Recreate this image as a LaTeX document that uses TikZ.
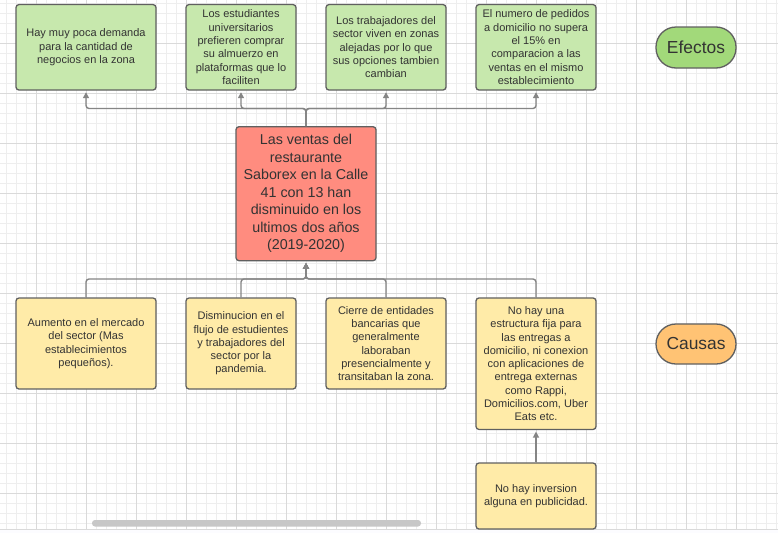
\documentclass[tikz,border=0pt]{standalone}
\usepackage{fontspec}
\setmainfont{Liberation Sans}
\usetikzlibrary{arrows.meta}
\definecolor{gridminor}{HTML}{EEEEEE}
\definecolor{gridmajor}{HTML}{DADADA}
\definecolor{efillg}{HTML}{C7E8AD}
\definecolor{efillc}{HTML}{FFEBA8}
\definecolor{efillr}{HTML}{FF8C7F}
\definecolor{pillg}{HTML}{A2D97A}
\definecolor{pillc}{HTML}{FFC374}
\definecolor{edge}{HTML}{606060}
\definecolor{wire}{HTML}{858585}
\definecolor{ink}{HTML}{333333}
\tikzset{
  card/.style={draw=edge, line width=1.3pt, rounded corners=3pt, align=center,
    text=ink, inner sep=0pt, font=\fontsize{11}{13.3}\selectfont},
  effect/.style={card, fill=efillg},
  cause/.style={card, fill=efillc},
  problem/.style={card, fill=efillr, font=\fontsize{14.3}{17.5}\selectfont},
  pill/.style={draw=edge, line width=1.3pt, rounded corners=20pt, text=ink,
    minimum width=80pt, inner sep=0pt, font=\fontsize{17.4}{20}\selectfont},
  wireline/.style={draw=wire, line width=1.4pt, rounded corners=3pt},
  wirearrow/.style={wireline, -{Triangle[length=6pt,width=6pt]}, shorten >=1.5pt}
}
\begin{document}
\begin{tikzpicture}[x=1pt,y=-1pt]
% canvas and background grid
\fill[white] (0,0) rectangle (778,533);
\useasboundingbox (0,0) rectangle (778,533);
\foreach \i in {0,...,77} \draw[gridminor, line width=0.8pt] ({6.67+10*\i},0) -- ({6.67+10*\i},530);
\foreach \i in {0,...,52} \draw[gridminor, line width=0.8pt] (0,{3.33+10*\i}) -- (778,{3.33+10*\i});
\foreach \i in {0,...,15} \draw[gridmajor, line width=0.9pt] ({36.67+50*\i},0) -- ({36.67+50*\i},530);
\foreach \i in {0,...,9} \draw[gridmajor, line width=0.9pt] (0,{43.33+50*\i}) -- (778,{43.33+50*\i});
\fill[white!96!blue!30!white] (0,530) rectangle (778,533);
\draw[gridmajor, line width=0.8pt] (0,529.8) -- (778,529.8);
\fill[black!22, rounded corners=3pt] (92,520) rectangle (421,526.5);

% effects
\node[effect, minimum width=140pt, minimum height=85.5pt] (e1) at (86,47.3)
  {Hay muy poca demanda\\para la cantidad de\\negocios en la zona};
\node[effect, minimum width=110pt, minimum height=85.5pt] (e2) at (241,47.3)
  {Los estudiantes\\universitarios\\prefieren comprar\\su almuerzo en\\plataformas que lo\\faciliten};
\node[effect, minimum width=120pt, minimum height=85.5pt] (e3) at (386,47.3)
  {Los trabajadores del\\sector viven en zonas\\alejadas por lo que\\sus opciones tambien\\cambian};
\node[effect, minimum width=120pt, minimum height=85.5pt] (e4) at (536,47.3)
  {El numero de pedidos\\a domicilio no supera\\el 15\% en\\comparacion a las\\ventas en el mismo\\establecimiento};
\node[pill, fill=pillg, minimum height=41pt] (efectos) at (696,47.5) {Efectos};

% central problem
\node[problem, minimum width=140pt, minimum height=134pt] (prob) at (306,193.7)
  {Las ventas del\\restaurante\\Saborex en la Calle\\41 con 13 han\\disminuido en los\\ultimos dos años\\(2019-2020)};

% causes
\node[cause, minimum width=140pt, minimum height=91pt] (c1) at (86,343.5)
  {Aumento en el mercado\\del sector (Mas\\establecimientos\\pequeños).};
\node[cause, minimum width=110pt, minimum height=91pt] (c2) at (241,343.5)
  {Disminucion en el\\flujo de estudientes\\y trabajadores del\\sector por la\\pandemia.};
\node[cause, minimum width=120pt, minimum height=91pt] (c3) at (386,343.5)
  {Cierre de entidades\\bancarias que\\generalmente\\laboraban\\presencialmente y\\transitaban la zona.};
\node[cause, minimum width=120pt, minimum height=131.5pt] (c4) at (536,363.7)
  {No hay una\\estructura fija para\\las entregas a\\domicilio, ni conexion\\con aplicaciones de\\entrega externas\\como Rappi,\\Domicilios.com, Uber\\Eats etc.};
\node[cause, minimum width=120pt, minimum height=66pt] (c5) at (536,496)
  {No hay inversion\\alguna en publicidad.};
\node[pill, fill=pillc, minimum height=40pt] (causas) at (696,344) {Causas};

% connectors: problem to each effect
\coordinate (tj) at (306,108.5);
\foreach \n in {e1,e2,e3,e4} \draw[wirearrow] (prob.north) -- (tj) -| (\n.south);

% connectors: each cause to problem
\coordinate (bj) at (306,279);
\foreach \n in {c1,c2,c3,c4} \draw[wirearrow] (\n.north) |- (bj) -- (prob.south);
\draw[wirearrow] (c5.north) -- (c4.south);
\end{tikzpicture}
\end{document}
